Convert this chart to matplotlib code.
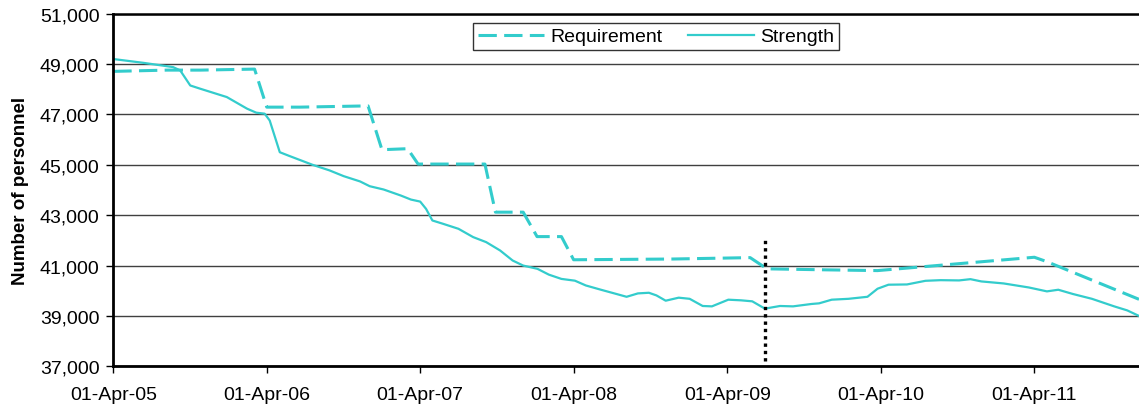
import numpy as np
import pandas as pd
import matplotlib
matplotlib.use("Agg")
import matplotlib.pyplot as plt
import matplotlib.dates as mdates
from matplotlib.ticker import FuncFormatter, MultipleLocator

plt.rcParams['font.family'] = ['Liberation Sans', 'DejaVu Sans']

# strength readings (date, personnel)
strength_dates = [
    "2005-04-01", "2005-06-11", "2005-08-21", "2005-09-07", "2005-10-01",
    "2005-10-25", "2005-12-27", "2006-02-13", "2006-03-07", "2006-03-27",
    "2006-04-08", "2006-05-02", "2006-05-25", "2006-07-19", "2006-08-28",
    "2006-10-01", "2006-11-09", "2006-12-02", "2007-01-04", "2007-02-14",
    "2007-03-10", "2007-04-01", "2007-04-15", "2007-04-30", "2007-05-25",
    "2007-07-01", "2007-08-05", "2007-09-05", "2007-10-08", "2007-11-07",
    "2007-12-02", "2008-01-05", "2008-02-01", "2008-03-02", "2008-04-03",
    "2008-04-29", "2008-06-04", "2008-07-09", "2008-08-04", "2008-08-31",
    "2008-09-26", "2008-10-14", "2008-11-05", "2008-12-06", "2009-01-01",
    "2009-02-01", "2009-02-23", "2009-04-03", "2009-05-03", "2009-05-30",
    "2009-06-29", "2009-08-04", "2009-09-04", "2009-10-18", "2009-11-05",
    "2009-12-05", "2010-01-14", "2010-02-28", "2010-03-24", "2010-04-19",
    "2010-06-02", "2010-07-16", "2010-08-21", "2010-10-04", "2010-10-31",
    "2010-11-26", "2011-01-18", "2011-03-19", "2011-05-01", "2011-05-28",
    "2011-07-02", "2011-08-16", "2011-10-08", "2011-11-08", "2011-12-06",
]
strength = [
    49200, 49050, 48880, 48750, 48150,
    48020, 47690, 47230, 47070, 47030,
    46760, 45500, 45350, 45000, 44780,
    44550, 44340, 44150, 44020, 43780,
    43620, 43540, 43250, 42790, 42660,
    42460, 42130, 41930, 41600, 41200,
    41000, 40870, 40640, 40470, 40400,
    40210, 40040, 39880, 39760, 39895,
    39920, 39815, 39605, 39725, 39680,
    39395, 39380, 39645, 39620, 39580,
    39290, 39395, 39380, 39475, 39500,
    39645, 39680, 39760, 40080, 40240,
    40250, 40395, 40420, 40410, 40460,
    40370, 40290, 40130, 39975, 40040,
    39870, 39680, 39380, 39220, 39000,
]

# requirement readings
req_dates = [
    "2005-04-01", "2005-08-06", "2005-10-25", "2006-03-03", "2006-04-01",
    "2006-06-19", "2006-11-28", "2006-12-31", "2007-03-02", "2007-03-27",
    "2007-09-02", "2007-09-27", "2007-12-02", "2008-01-04", "2008-03-02",
    "2008-03-31", "2008-11-22", "2009-05-25", "2009-07-04", "2009-11-22",
    "2010-03-24", "2010-07-25", "2011-04-01", "2011-04-30", "2011-12-06",
]
requirement = [
    48710, 48760, 48760, 48800, 47290,
    47290, 47340, 45600, 45640, 45030,
    45030, 43120, 43120, 42150, 42150,
    41230, 41260, 41315, 40870, 40830,
    40800, 40975, 41330, 41160, 39660,
]

marker_date = "2009-06-29"
marker_range = [37200, 42000]

x_start = "2005-04-01"
x_end = "2011-12-06"
y_ticks = list(range(37000, 51001, 2000))

colour = "#33CCCC"

fig = plt.figure(figsize=(11.39, 4.06), dpi=100)
ax = fig.add_axes([0.0995, 0.0953, 0.9005, 0.8685])

ax.plot(pd.to_datetime(req_dates), requirement, color=colour, lw=2.2,
        dashes=(6, 2.4), label="Requirement")
ax.plot(pd.to_datetime(strength_dates), strength, color=colour, lw=1.6,
        label="Strength")
ax.vlines(pd.to_datetime(marker_date), marker_range[0], marker_range[1],
          colors="black", lw=2.4, linestyles=(0, (1, 1.2)))

ax.set_xlim(pd.to_datetime(x_start), pd.to_datetime(x_end))
ax.set_ylim(y_ticks[0], y_ticks[-1])
ax.set_yticks(y_ticks)
ax.yaxis.set_major_formatter(FuncFormatter(lambda v, p: f"{int(v):,}"))
ax.xaxis.set_major_locator(mdates.MonthLocator(bymonth=4, bymonthday=1))
ax.xaxis.set_major_formatter(mdates.DateFormatter("%d-%b-%y"))

ax.grid(axis="y", color="#404040", lw=1)
ax.set_axisbelow(True)
ax.spines["right"].set_visible(False)
ax.spines["top"].set_linewidth(1.8)
ax.spines["left"].set_linewidth(2)
ax.spines["bottom"].set_linewidth(2)
ax.tick_params(axis="both", labelsize=14, length=5, width=1, direction="out")
ax.tick_params(axis="x", pad=9)
ax.tick_params(axis="y", pad=5)

ax.set_ylabel("Number of personnel", fontsize=13.5, fontweight="bold", labelpad=8)

leg = ax.legend(loc="center", bbox_to_anchor=(656 / 1139, 1 - 37.5 / 406),
                bbox_transform=fig.transFigure, ncol=2, fontsize=14,
                frameon=True, fancybox=False, edgecolor="black",
                handlelength=3.4, handletextpad=0.3, columnspacing=1.3,
                borderpad=0.25)
leg.get_frame().set_linewidth(1)

fig.savefig("out.png", dpi=100)
